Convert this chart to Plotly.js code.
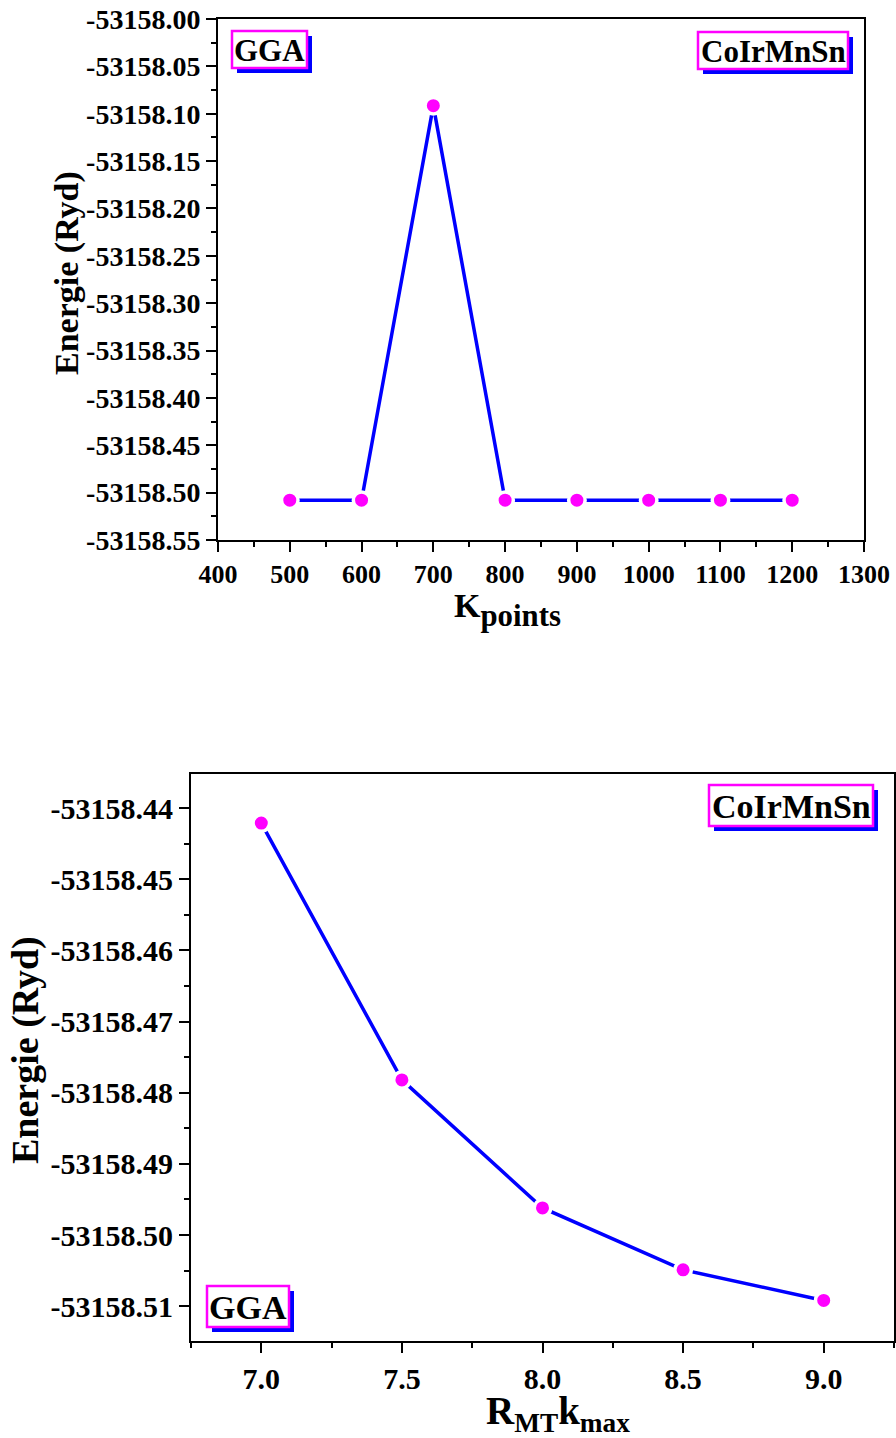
<!DOCTYPE html>
<html><head><meta charset="utf-8">
<script src="https://cdn.plot.ly/plotly-3.0.1.min.js"></script>
<style>html,body{margin:0;padding:0;background:#fff}</style>
</head><body>
<div id="chart" style="width:896px;height:1438px"></div>
<script>
// Top panel: energy vs k-points
const kPoints = [500, 600, 700, 800, 900, 1000, 1100, 1200];
const energyK = [-53158.508, -53158.508, -53158.0915, -53158.508, -53158.508, -53158.508, -53158.508, -53158.508];
const kTickVals = [-53158.55, -53158.50, -53158.45, -53158.40, -53158.35, -53158.30, -53158.25, -53158.20, -53158.15, -53158.10, -53158.05, -53158.00];
const kTickText = ['-53158.55', '-53158.50', '-53158.45', '-53158.40', '-53158.35', '-53158.30', '-53158.25', '-53158.20', '-53158.15', '-53158.10', '-53158.05', '-53158.00'];
// Bottom panel: energy vs RMT*kmax
const rmtKmax = [7.0, 7.5, 8.0, 8.5, 9.0];
const energyR = [-53158.4421, -53158.4782, -53158.4962, -53158.5049, -53158.5092];
const rTickVals = [-53158.51, -53158.50, -53158.49, -53158.48, -53158.47, -53158.46, -53158.45, -53158.44];
const rTickText = ['-53158.51', '-53158.50', '-53158.49', '-53158.48', '-53158.47', '-53158.46', '-53158.45', '-53158.44'];
const labelMethod = 'GGA';
const labelCompound = 'CoIrMnSn';
const yTitle = 'Energie (Ryd)';
const xTitleTop = '<span style="font-size:34px">K</span><sub>points</sub>';
const xTitleBottom = 'R<sub>MT</sub>k<sub>max</sub>';

const W = 896, H = 1438;
const px = x => x / W;
const py = y => 1 - y / H;
const FONT = "'Liberation Serif', 'Times New Roman', Times, serif";
const f = size => ({family: FONT, size: size, color: '#000', weight: 'bold'});

function lineTrace(x, y, xa, ya) {
  return {
    x: x, y: y, xaxis: xa, yaxis: ya, type: 'scatter', mode: 'lines+markers',
    line: {color: '#0000ff', width: 3.5},
    marker: {color: '#ff00ff', size: 16.5, line: {color: '#ffffff', width: 3.5}},
    showlegend: false, cliponaxis: false
  };
}

function axisBase(extra) {
  return Object.assign({
    showgrid: false, zeroline: false, showline: true, linecolor: '#000', linewidth: 2,
    mirror: true, ticks: 'outside', ticklen: 10, tickwidth: 2, tickcolor: '#000'
  }, extra);
}
const minorTicks = (dtick, tick0) => ({tickmode: 'linear', tick0: tick0, dtick: dtick, ticks: 'outside', ticklen: 5, tickwidth: 2, tickcolor: '#000'});

function box(x0, y0, x1, y1) {
  return [
    {type: 'rect', xref: 'paper', yref: 'paper', x0: px(x0 + 5), x1: px(x1 + 5), y0: py(y1 + 5), y1: py(y0 + 5),
     fillcolor: '#0000ff', line: {width: 0}, layer: 'above'},
    {type: 'rect', xref: 'paper', yref: 'paper', x0: px(x0), x1: px(x1), y0: py(y1), y1: py(y0),
     fillcolor: '#ffffff', line: {color: '#ff00ff', width: 2.5}, layer: 'above'}
  ];
}
function boxText(text, x0, y0, x1, y1, size) {
  return {xref: 'paper', yref: 'paper', x: px((x0 + x1) / 2), y: py((y0 + y1) / 2 + 1),
    xanchor: 'center', yanchor: 'middle', showarrow: false, text: text, font: f(size)};
}
function title(text, x, y, size, angle) {
  return {xref: 'paper', yref: 'paper', x: px(x), y: py(y), xanchor: 'center', yanchor: 'middle',
    showarrow: false, text: text, textangle: angle || 0, font: f(size)};
}

const data = [
  lineTrace(kPoints, energyK, 'x', 'y'),
  lineTrace(rmtKmax, energyR, 'x2', 'y2')
];

const layout = {
  width: W, height: H, margin: {l: 0, r: 0, t: 0, b: 0},
  paper_bgcolor: '#fff', plot_bgcolor: '#fff', showlegend: false,
  font: {family: FONT, color: '#000'},
  xaxis: axisBase({
    domain: [px(218), px(864)], anchor: 'y', range: [400, 1300], dtick: 100, tick0: 400,
    tickfont: f(26), minor: minorTicks(50, 400)
  }),
  yaxis: axisBase({
    domain: [py(540), py(19)], anchor: 'x', range: [-53158.55, -53158.00],
    tickmode: 'array', tickvals: kTickVals, ticktext: kTickText,
    tickfont: f(28), minor: minorTicks(0.025, -53158.55)
  }),
  xaxis2: axisBase({
    domain: [px(191), px(894)], anchor: 'y2', range: [6.75, 9.25], dtick: 0.5, tick0: 7,
    tickformat: '.1f', tickfont: f(30), minor: minorTicks(0.25, 6.75)
  }),
  yaxis2: axisBase({
    domain: [py(1341), py(774)], anchor: 'x2', range: [-53158.5149, -53158.4352],
    tickmode: 'array', tickvals: rTickVals, ticktext: rTickText,
    tickfont: f(30), minor: minorTicks(0.005, -53158.44)
  }),
  shapes: [].concat(
    box(232, 31, 307, 68),
    box(698, 32, 848, 69),
    box(709, 785, 873, 826),
    box(207, 1286, 289, 1327)
  ),
  annotations: [
    boxText(labelMethod, 232, 31, 307, 68, 31),
    boxText(labelCompound, 698, 32, 848, 69, 31),
    boxText(labelCompound, 709, 785, 873, 826, 34),
    boxText(labelMethod, 207, 1286, 289, 1327, 34),
    title(yTitle, 67, 273, 34, -90),
    title(xTitleTop, 507, 610, 44, 0),
    title(yTitle, 25, 1050, 38, -90),
    title(xTitleBottom, 558, 1413, 39, 0)
  ]
};

Plotly.newPlot('chart', data, layout, {displayModeBar: false, staticPlot: true});
</script>
</body></html>
